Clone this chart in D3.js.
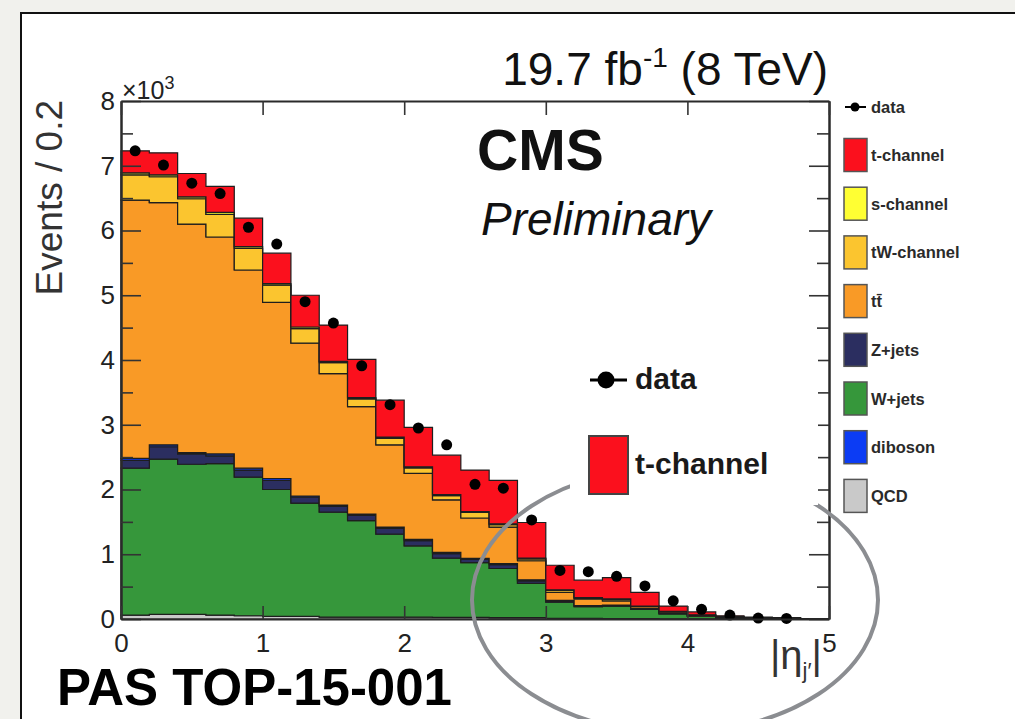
<!DOCTYPE html>
<html>
<head>
<meta charset="utf-8">
<script src="https://cdn.jsdelivr.net/npm/d3@7"></script>
<style>
  body { margin: 0; background: #f1f1ed; }
  svg { display: block; font-family: "Liberation Sans", Arial, Helvetica, sans-serif; }
</style>
</head>
<body>
<svg id="chart" width="1015" height="719"></svg>
<script>
// |eta_j'| bins, 0.2 wide (lower edges)
const binLow = [0, 0.2, 0.4, 0.6, 0.8, 1.0, 1.2, 1.4, 1.6, 1.8, 2.0, 2.2, 2.4, 2.6, 2.8,
                3.0, 3.2, 3.4, 3.6, 3.8, 4.0, 4.2, 4.4, 4.6, 4.8];

// stacked MC, events / 0.2 (bottom to top)
const qcd      = [60, 70, 70, 60, 50, 40, 40, 30, 30, 30, 30, 25, 25, 20, 20, 10, 10, 8, 5, 3, 2, 1, 0, 0, 0];
const wjets    = [2270, 2400, 2320, 2340, 2140, 1960, 1750, 1620, 1490, 1280, 1100, 915, 845, 760, 530,
                  250, 180, 192, 145, 77, 38, 19, 10, 5, 0];
const zjets    = [120, 190, 160, 120, 110, 140, 90, 90, 80, 90, 80, 70, 50, 60, 40, 20, 12, 10, 8, 4, 2, 1, 0, 0, 0];
const diboson  = [30, 30, 20, 30, 30, 30, 20, 20, 20, 20, 20, 20, 15, 15, 15, 8, 5, 5, 4, 2, 1, 0, 0, 0, 0];
const ttbar    = [3990, 3740, 3530, 3350, 3060, 2720, 2360, 2030, 1660, 1270, 1020, 810, 625, 565, 295,
                  122, 103, 65, 28, 24, 17, 9, 5, 3, 0];
const tW       = [390, 400, 390, 350, 335, 265, 225, 170, 120, 100, 85, 65, 85, 38, 30, 32, 14, 24, 6, 5, 3, 2, 1, 1, 0];
const sChannel = [30, 30, 30, 30, 25, 25, 25, 20, 20, 20, 15, 15, 15, 12, 10, 8, 6, 6, 4, 3, 2, 1, 1, 0, 0];
const tChannel = [340, 340, 360, 400, 440, 470, 490, 560, 590, 570, 610, 610, 640, 670, 550,
                  380, 270, 330, 210, 82, 45, 17, 13, 11, 0];

// observed data per bin
const dataVals = [7230, 7010, 6730, 6570, 6050, 5790, 4900, 4570, 3910, 3310, 2950, 2690, 2080, 2020, 1530,
                  750, 730, 660, 510, 280, 150, 60, 15, 8];

const yTicks = [0, 1000, 2000, 3000, 4000, 5000, 6000, 7000, 8000];
const xTicks = [0, 1, 2, 3, 4, 5];

const keys = ["qcd", "wjets", "zjets", "diboson", "ttbar", "tW", "sChannel", "tChannel"];
const colors = {
  qcd: "#c9c9c9", wjets: "#36973b", zjets: "#2b2e60", diboson: "#0c3cf4",
  ttbar: "#f99a26", tW: "#fbc52f", sChannel: "#ffff33", tChannel: "#fb101d"
};
const legendItems = [
  { key: "tChannel", label: "t-channel" },
  { key: "sChannel", label: "s-channel" },
  { key: "tW", label: "tW-channel" },
  { key: "ttbar", label: "tt\u0304" },
  { key: "zjets", label: "Z+jets" },
  { key: "wjets", label: "W+jets" },
  { key: "diboson", label: "diboson" },
  { key: "qcd", label: "QCD" }
];

const svg = d3.select("#chart");

// slide background and white panel
svg.append("rect").attr("width", 1015).attr("height", 719).attr("fill", "#f1f1ed");
svg.append("rect").attr("x", 21).attr("y", 13).attr("width", 1100).attr("height", 800)
  .attr("fill", "#fff").attr("stroke", "#111").attr("stroke-width", 2);

const x = d3.scaleLinear().domain([0, 5]).range([121, 829]);
const y = d3.scaleLinear().domain([0, 8000]).range([619, 101]);

// table for the stack, with one closing row at the upper edge
const series = { qcd, wjets, zjets, diboson, ttbar, tW, sChannel, tChannel };
const table = binLow.map((b, i) => {
  const row = { x: b };
  keys.forEach(k => row[k] = series[k][i]);
  return row;
});
const last = Object.assign({}, table[table.length - 1], { x: 5 });
table.push(last);

const stacked = d3.stack().keys(keys)(table);

const area = d3.area()
  .curve(d3.curveStepAfter)
  .x(d => x(d.data.x))
  .y0(d => y(d[0]))
  .y1(d => y(d[1]));

svg.append("g").selectAll("path")
  .data(stacked)
  .join("path")
  .attr("fill", d => colors[d.key])
  .attr("stroke", "#1e1e1e")
  .attr("stroke-width", 1.2)
  .attr("d", area);

// data points
svg.append("g").selectAll("circle")
  .data(dataVals)
  .join("circle")
  .attr("cx", (d, i) => x(binLow[i] + 0.1))
  .attr("cy", d => y(d))
  .attr("r", 5.5)
  .attr("fill", "#000");

// axes, ticks pointing into the frame
function styleAxis(g) {
  g.select(".domain").attr("stroke", "#2a2a2a").attr("stroke-width", 2);
  g.selectAll(".tick line").attr("stroke", "#333").attr("stroke-width", 1.6);
  g.selectAll(".tick text").attr("fill", "#222").style("font-size", "26px")
    .style("font-family", "'Liberation Sans', Arial, sans-serif");
}

svg.append("g").attr("transform", "translate(121,0)")
  .call(d3.axisLeft(y).tickValues(yTicks).tickFormat(d => d / 1000)
    .tickSizeInner(-20).tickSizeOuter(0).tickPadding(6))
  .call(styleAxis);
svg.append("g").attr("transform", "translate(121,0)")
  .call(d3.axisLeft(y).tickValues(d3.range(500, 8000, 1000)).tickFormat("")
    .tickSizeInner(-12).tickSizeOuter(0))
  .call(styleAxis);

svg.append("g").attr("transform", "translate(829,0)")
  .call(d3.axisRight(y).tickValues(yTicks).tickFormat("").tickSizeInner(-20).tickSizeOuter(0))
  .call(styleAxis);
svg.append("g").attr("transform", "translate(829,0)")
  .call(d3.axisRight(y).tickValues(d3.range(500, 8000, 1000)).tickFormat("")
    .tickSizeInner(-12).tickSizeOuter(0))
  .call(styleAxis);

svg.append("g").attr("transform", "translate(0,619)")
  .call(d3.axisBottom(x).tickValues(xTicks).tickFormat(d3.format("d"))
    .tickSizeInner(-13).tickSizeOuter(0).tickPadding(15))
  .call(styleAxis);
svg.append("g").attr("transform", "translate(0,101)")
  .call(d3.axisTop(x).tickValues(xTicks).tickFormat("").tickSizeInner(-14).tickSizeOuter(0))
  .call(styleAxis);

// x10^3 multiplier
const mult = svg.append("text").attr("x", 122).attr("y", 99)
  .attr("fill", "#222").style("font-size", "25px");
mult.append("tspan").text("\u00d710");
mult.append("tspan").attr("dy", -10).style("font-size", "18px").text("3");

// y title
svg.append("text")
  .attr("transform", "translate(62,100) rotate(-90)")
  .attr("text-anchor", "end")
  .attr("fill", "#333")
  .style("font-size", "37px")
  .text("Events / 0.2");

// x title |eta_j'|
const xt = svg.append("text").attr("x", 822).attr("y", 669).attr("text-anchor", "end")
  .attr("fill", "#333").style("font-size", "40px");
xt.append("tspan").text("|\u03b7");
xt.append("tspan").attr("dy", 9).style("font-size", "22px").text("j\u2032");
xt.append("tspan").attr("dy", -9).text("|");

// luminosity label
const lumi = svg.append("text").attr("x", 828).attr("y", 85).attr("text-anchor", "end")
  .attr("fill", "#111").style("font-size", "46px");
lumi.append("tspan").text("19.7 fb");
lumi.append("tspan").attr("dy", -18).style("font-size", "28px").text("-1");
lumi.append("tspan").attr("dy", 18).text(" (8 TeV)");

svg.append("text").attr("x", 477).attr("y", 170).attr("fill", "#111")
  .style("font-size", "57px").style("font-weight", "bold").text("CMS");
svg.append("text").attr("x", 481).attr("y", 235).attr("fill", "#111")
  .style("font-size", "46px").style("font-style", "italic").text("Preliminary");

// right-hand legend
const leg = svg.append("g");
leg.append("line").attr("x1", 845).attr("x2", 866).attr("y1", 107).attr("y2", 107)
  .attr("stroke", "#000").attr("stroke-width", 2);
leg.append("circle").attr("cx", 855).attr("cy", 107).attr("r", 4.5).attr("fill", "#000");
leg.append("text").attr("x", 871).attr("y", 113).attr("fill", "#2a2a2a")
  .style("font-size", "16.5px").style("font-weight", "bold").text("data");

legendItems.forEach((it, k) => {
  const cy = 155 + 48.7 * k;
  leg.append("rect").attr("x", 844).attr("y", cy - 16.5).attr("width", 23).attr("height", 33)
    .attr("fill", colors[it.key]).attr("stroke", "#555").attr("stroke-width", 1.5);
  leg.append("text").attr("x", 871).attr("y", cy + 6).attr("fill", "#2a2a2a")
    .style("font-size", "16.5px").style("font-weight", "bold").text(it.label);
});

// slide annotation ellipse, partly hidden under the pasted legend box
svg.append("ellipse").attr("cx", 675).attr("cy", 600).attr("rx", 203).attr("ry", 133)
  .attr("fill", "none").attr("stroke", "#8b8d91").attr("stroke-width", 4);

svg.append("rect").attr("x", 570).attr("y", 345).attr("width", 248).attr("height", 160)
  .attr("fill", "#fff");
svg.append("line").attr("x1", 590).attr("x2", 627).attr("y1", 380).attr("y2", 380)
  .attr("stroke", "#000").attr("stroke-width", 3);
svg.append("circle").attr("cx", 606).attr("cy", 380).attr("r", 8.5).attr("fill", "#000");
svg.append("text").attr("x", 635).attr("y", 389).attr("fill", "#1a1a1a")
  .style("font-size", "30px").style("font-weight", "bold").text("data");
svg.append("rect").attr("x", 589).attr("y", 436).attr("width", 39).attr("height", 58)
  .attr("fill", colors.tChannel).attr("stroke", "#444").attr("stroke-width", 2);
svg.append("text").attr("x", 635).attr("y", 474).attr("fill", "#1a1a1a")
  .style("font-size", "30px").style("font-weight", "bold").text("t-channel");

// slide reference
svg.append("text").attr("x", 57).attr("y", 705).attr("fill", "#000")
  .style("font-size", "51px").style("font-weight", "bold").text("PAS TOP-15-001");
</script>
</body>
</html>
